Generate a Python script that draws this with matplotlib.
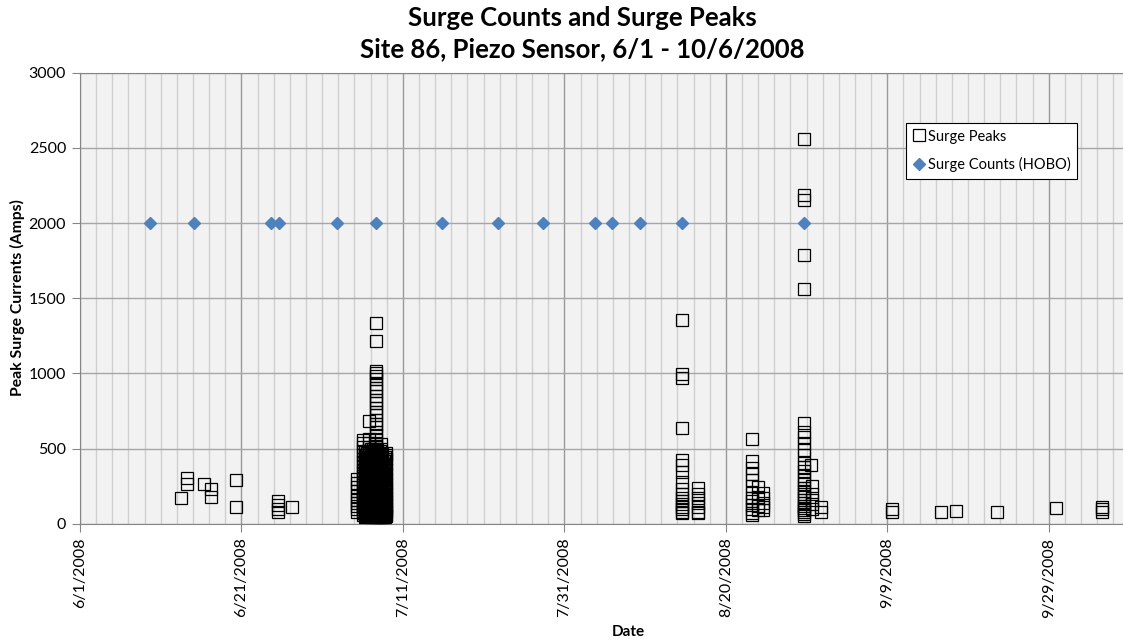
import matplotlib.pyplot as plt
import matplotlib.dates as mdates
import matplotlib.ticker as mticker
import numpy as np
from datetime import datetime

plt.rcParams['font.family'] = ['Lato', 'DejaVu Sans']

start = datetime(2008, 6, 1)

# surge counts (HOBO), days after 6/1/2008, all plotted at 2000
hobo_days = [8.7, 14.1, 23.7, 24.7, 31.8, 36.7, 44.9, 51.8, 57.4, 63.8, 65.9, 69.4, 74.6, 89.7]
hobo_level = 2000

# surge peaks, grouped by the day column they sit in
june_days = [12.5, 13.3, 13.3, 15.4, 16.2, 16.2, 19.3, 19.3, 24.5, 24.5, 24.5, 24.5, 26.3]
june_amps = [171, 305, 262, 262, 228, 180, 292, 112, 150, 125, 100, 80, 108]

july_cols = [34.3, 35.1, 35.3, 35.45, 35.6, 35.8, 36.0, 36.3, 36.5, 36.7, 36.85, 37.0,
             37.15, 37.3, 37.45, 37.6, 37.75, 37.9]
july_amps = [
    [78, 95, 115, 135, 160, 185, 215, 245, 270, 300],
    [60, 72, 85, 98, 112, 126, 140, 155, 170, 186, 203, 220, 238, 256, 275, 295,
     316, 338, 360, 384, 408, 433, 458, 485, 512, 540, 560],
    [46, 55, 66, 78, 89, 101, 113, 124, 137, 149, 161, 174, 187, 199, 212, 226,
     239, 252, 266, 280, 294, 308, 322, 337, 351, 366, 381, 396, 411, 427, 442, 458, 474],
    [52, 64, 77, 90, 104, 118, 133, 148, 164, 180, 197, 214, 232, 250, 269, 288,
     308, 328, 349, 370, 392, 414, 437, 460],
    [49, 59, 70, 82, 94, 107, 119, 131, 143, 156, 169, 181, 194, 207, 220, 234,
     247, 261, 275, 289, 303, 317, 332, 346, 361, 376, 391, 407, 422, 438, 454, 470, 486],
    [55, 68, 82, 96, 110, 125, 140, 156, 172, 190, 208, 227, 246, 266, 287, 309,
     332, 356, 380, 405, 430, 456, 483, 510, 537, 565, 680],
    [47, 57, 67, 79, 91, 102, 115, 127, 139, 152, 164, 177, 190, 203, 216, 229,
     243, 256, 270, 284, 298, 312, 327, 341, 356, 371, 386, 401, 416, 432, 448, 464, 480, 497],
    [50, 61, 73, 86, 99, 113, 127, 142, 157, 173, 189, 206, 223, 241, 259, 278,
     297, 317, 337, 358, 379, 401, 423, 446, 470, 494],
    [45, 54, 65, 76, 88, 99, 111, 123, 135, 147, 160, 172, 185, 198, 211, 224,
     237, 251, 264, 278, 292, 306, 321, 335, 350, 365, 380, 395, 410, 426, 441, 457, 473, 490],
    [55, 70, 90, 110, 130, 150, 170, 190, 210, 230, 250, 270, 290, 310, 330, 350,
     370, 390, 410, 430, 450, 470, 495, 515, 540, 560, 590, 610, 640, 660, 690,
     720, 740, 770, 800, 820, 850, 880, 900, 930, 960, 985, 1000, 1015, 1215, 1333],
    [46, 56, 66, 77, 89, 101, 113, 125, 137, 150, 162, 175, 188, 201, 214, 228,
     241, 255, 269, 283, 297, 311, 326, 340, 355, 370, 385, 400, 416, 431, 447, 463, 479, 495],
    [48, 58, 69, 81, 93, 106, 119, 133, 147, 162, 177, 193, 209, 226, 243, 261,
     279, 298, 317, 337, 357, 378, 399, 421, 443],
    [47, 56, 67, 78, 90, 102, 114, 126, 138, 151, 163, 176, 189, 202, 215, 229,
     242, 256, 270, 284, 298, 313, 327, 342, 357, 372, 387, 402, 418, 434, 450, 466, 482],
    [50, 62, 75, 90, 105, 120, 136, 152, 170, 188, 206, 225, 245, 266, 288, 310,
     335, 360, 385, 410, 440, 470, 500, 530],
    [46, 55, 66, 77, 88, 100, 112, 124, 136, 149, 161, 174, 187, 200, 213, 227,
     240, 254, 268, 282, 296, 311, 325, 340, 355, 370, 385, 400, 416, 432, 448, 464],
    [47, 57, 68, 80, 92, 105, 118, 132, 146, 161, 176, 192, 208, 225, 242, 260,
     278, 297, 316, 336, 356, 377, 398, 420],
    [45, 54, 64, 75, 86, 98, 110, 122, 134, 147, 159, 172, 185, 198, 211, 225,
     238, 252, 266, 280, 294, 309, 323, 338, 353, 368, 383, 398, 414, 430, 446],
    [48, 60, 75, 92, 110, 130, 150, 172, 195, 220, 246, 272, 300, 330, 362, 395,
     430, 455, 470],
]

aug_cols = [74.6, 76.5, 83.3, 84.0, 84.6, 89.7, 90.5, 90.7, 91.8]
aug_amps = [
    [1355, 993, 967, 639, 424, 390, 346, 280, 230, 200, 170, 150, 130, 110, 95, 80, 70],
    [237, 200, 170, 140, 110, 80, 70],
    [563, 417, 370, 330, 290, 250, 204, 170, 150, 124, 100, 70, 55],
    [244, 180, 120, 90],
    [206, 170, 140, 110, 91],
    [2560, 2185, 2155, 1785, 1561, 668, 612, 579, 539, 490, 457, 404, 377, 350,
     320, 290, 265, 240, 215, 195, 175, 155, 138, 120, 105, 90, 75, 62, 50],
    [390],
    [251, 200, 160, 130, 100],
    [113, 80],
]

fall_days = [100.6, 100.6, 106.6, 108.5, 113.6, 120.9, 126.6, 126.6, 126.6]
fall_amps = [96, 80, 80, 85, 76, 102, 113, 95, 76]

peak_days = list(june_days)
peak_amps = list(june_amps)
for d, vals in zip(july_cols + aug_cols, july_amps + aug_amps):
    peak_days += [d] * len(vals)
    peak_amps += vals
peak_days += fall_days
peak_amps += fall_amps

base = mdates.date2num(start)
peak_x = base + np.array(peak_days)
hobo_x = base + np.array(hobo_days)

fig = plt.figure(figsize=(11.23, 6.42), dpi=100)
ax = fig.add_axes([80 / 1123, 1 - 523.7 / 642, 1 - 80 / 1123, 451 / 642])
ax.set_facecolor('#f2f2f2')

ax.plot(peak_x, peak_amps, linestyle='none', marker='s', markersize=8.6,
        markerfacecolor='none', markeredgecolor='black', markeredgewidth=0.9,
        label='Surge Peaks', zorder=3)
ax.plot(hobo_x, [hobo_level] * len(hobo_x), linestyle='none', marker='D', markersize=6.4,
        color='#4f81bd', label='Surge Counts (HOBO)', zorder=4)

ax.set_xlim(base, base + 129.2)
ax.set_ylim(0, 3000)

ax.xaxis.set_major_locator(mticker.FixedLocator(base + np.arange(0, 130, 20)))
ax.xaxis.set_minor_locator(mticker.FixedLocator(base + np.arange(0, 130, 2)))

def fmt_date(v, pos):
    d = mdates.num2date(v)
    return '%d/%d/%d' % (d.month, d.day, d.year)

ax.xaxis.set_major_formatter(mticker.FuncFormatter(fmt_date))
ax.yaxis.set_major_locator(mticker.MultipleLocator(500))

ax.grid(which='minor', axis='x', color='#cfcfcf', linewidth=1.0)
ax.grid(which='major', axis='x', color='#9a9a9a', linewidth=1.0)
ax.grid(which='major', axis='y', color='#a6a6a6', linewidth=1.0)
ax.set_axisbelow(True)

for s in ['left', 'bottom', 'top']:
    ax.spines[s].set_color('#868686')
ax.spines['right'].set_visible(False)

ax.tick_params(axis='x', which='major', length=6, color='#868686', labelsize=11.5,
               labelrotation=90, pad=4)
ax.tick_params(axis='x', which='minor', length=0)
ax.tick_params(axis='y', length=6, color='#868686', labelsize=11.5, pad=4)

fig.text(582 / 1123, 1 - 18 / 642, 'Surge Counts and Surge Peaks', ha='center', va='center',
         fontsize=18.5, fontweight='bold')
fig.text(582 / 1123, 1 - 49 / 642, 'Site 86, Piezo Sensor, 6/1 - 10/6/2008', ha='center',
         va='center', fontsize=18.5, fontweight='bold')
fig.text(17 / 1123, 1 - 298 / 642, 'Peak Surge Currents (Amps)', rotation=90, ha='center',
         va='center', fontsize=11.3, fontweight='bold')
fig.text(628 / 1123, 1 - 632 / 642, 'Date', ha='center', va='center', fontsize=11,
         fontweight='bold')

leg = ax.legend(loc='upper left', bbox_to_anchor=((906 - 80) / 1043, 1 - (123 - 72.7) / 451),
                fontsize=10.5, frameon=True, fancybox=False, edgecolor='black',
                framealpha=1, borderpad=0.45, borderaxespad=0, handletextpad=0.15,
                handlelength=0.9, labelspacing=0.95)
leg.get_frame().set_linewidth(0.8)

fig.savefig('out.png', dpi=100)
